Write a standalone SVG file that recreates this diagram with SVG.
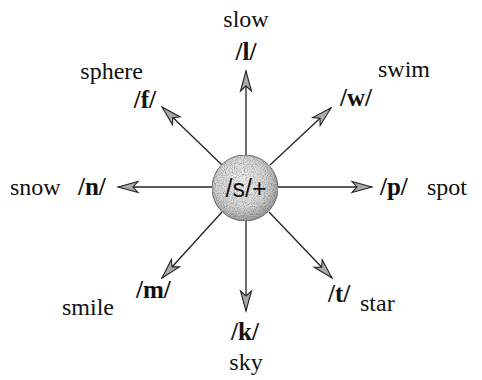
<svg xmlns="http://www.w3.org/2000/svg" width="482" height="380" viewBox="0 0 482 380">
<style>
.w{font-family:"Liberation Serif","DejaVu Serif",serif;font-size:24px;fill:#111}
.p{font-family:"Liberation Serif","DejaVu Serif",serif;font-size:25px;font-weight:bold;fill:#111}
.c{font-family:"Liberation Sans","DejaVu Sans",sans-serif;font-size:25px;fill:#111;text-anchor:middle}
.m{text-anchor:middle}
.e{text-anchor:end}
.ln{stroke:#222;stroke-width:1.3;fill:none;marker-end:url(#ah)}
</style>
<defs>
<marker id="ah" markerUnits="userSpaceOnUse" markerWidth="24" markerHeight="16" viewBox="-22 -8 24 16" refX="0" refY="0" orient="auto">
<path d="M0,0 L-20,-5.5 L-15,0 L-20,5.5 Z" fill="#aaa" stroke="#222" stroke-width="1.1"/>
</marker>
<radialGradient id="g" cx="0.45" cy="0.42" r="0.62">
<stop offset="0" stop-color="#f6f6f6"/>
<stop offset="0.6" stop-color="#dadada"/>
<stop offset="1" stop-color="#9a9a9a"/>
</radialGradient>
<filter id="grain" x="0" y="0" width="100%" height="100%">
<feTurbulence type="fractalNoise" baseFrequency="0.9" numOctaves="1" seed="3" result="n"/>
<feColorMatrix in="n" type="matrix" values="0 0 0 0 0 0 0 0 0 0 0 0 0 0 0 0 0 0 1.6 -0.65" result="dots"/>
<feComposite in="dots" in2="SourceGraphic" operator="in" result="d2"/>
<feMerge><feMergeNode in="SourceGraphic"/><feMergeNode in="d2"/></feMerge>
</filter>
</defs>
<g id="connectors">
<line class="ln" x1="246" y1="155" x2="246" y2="71"/>
<line class="ln" x1="278" y1="187" x2="372" y2="187"/>
<line class="ln" x1="212" y1="187" x2="118" y2="187"/>
<line class="ln" x1="246" y1="221" x2="246" y2="311"/>
<line class="ln" x1="270" y1="165" x2="331" y2="108"/>
<line class="ln" x1="222" y1="165" x2="162" y2="107"/>
<line class="ln" x1="269" y1="212" x2="332" y2="278"/>
<line class="ln" x1="222" y1="212" x2="162" y2="278"/>
</g>
<g id="center">
<circle cx="245" cy="188" r="33" fill="url(#g)" stroke="#777" stroke-width="1" filter="url(#grain)"/>
<text class="c" x="246" y="197">/s/+</text>
</g>
<g id="n-l"><text class="w m" x="246" y="27">slow</text><text class="p m" x="246" y="60">/l/</text></g>
<g id="n-f"><text class="w e" x="143" y="79">sphere</text><text class="p e" x="156" y="108">/f/</text></g>
<g id="n-w"><text class="w" x="378" y="77">swim</text><text class="p" x="340" y="106">/w/</text></g>
<g id="n-n"><text class="w" x="10" y="195">snow</text><text class="p" x="78" y="195">/n/</text></g>
<g id="n-p"><text class="p" x="380" y="195">/p/</text><text class="w" x="427" y="195">spot</text></g>
<g id="n-m"><text class="w" x="62" y="315">smile</text><text class="p" x="136" y="298">/m/</text></g>
<g id="n-k"><text class="p m" x="245" y="340">/k/</text><text class="w m" x="246" y="370">sky</text></g>
<g id="n-t"><text class="p" x="328" y="302">/t/</text><text class="w" x="360" y="311">star</text></g>
</svg>
